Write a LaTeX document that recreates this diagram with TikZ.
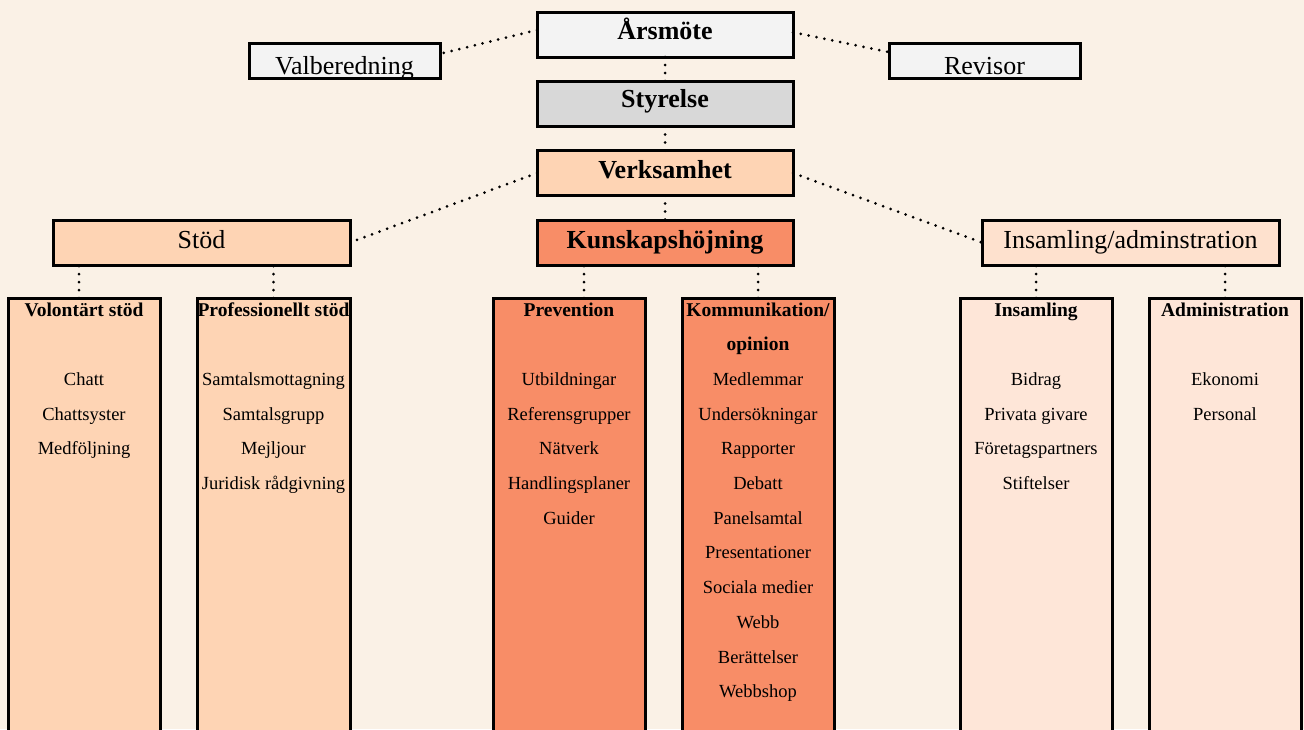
\documentclass[tikz,border=0pt]{standalone}
\usepackage{fontspec}
\setmainfont{Liberation Serif}
\usetikzlibrary{calc}
\definecolor{bgc}{HTML}{FAF1E6}
\definecolor{grayA}{HTML}{F3F3F3}
\definecolor{grayB}{HTML}{D8D8D8}
\definecolor{peach}{HTML}{FED4B4}
\definecolor{salmon}{HTML}{F88D67}
\definecolor{pale}{HTML}{FEE6D8}
\definecolor{paleh}{HTML}{FEE1CE}
\begin{document}
\begin{tikzpicture}[x=1pt,y=-1pt,
  box/.style={draw=black, line width=3pt, inner sep=0pt, outer sep=0pt,
    minimum width=256pt, minimum height=45pt, text height=28pt, text depth=17pt,
    font=\fontsize{26}{30}\selectfont},
  sidebox/.style={draw=black, line width=3pt, inner sep=0pt, outer sep=0pt,
    minimum width=191pt, minimum height=35pt, text height=31pt, text depth=4pt,
    font=\fontsize{26}{30}\selectfont, fill=grayA},
  widebox/.style={box, minimum width=297pt},
  colbox/.style={draw=black, line width=3pt, inner sep=0pt, outer sep=0pt,
    minimum width=152pt, minimum height=470pt, anchor=north},
  hd/.style={font=\bfseries\fontsize{19.5}{22}\selectfont, anchor=base, inner sep=0pt},
  itm/.style={font=\fontsize{18.5}{22}\selectfont, anchor=base, inner sep=0pt},
  dotl/.style={line width=3pt, line cap=round, dash pattern=on 0pt off 8pt}
]
\fill[bgc] (0,0) rectangle (1304,729);
\useasboundingbox (0,0) rectangle (1304,729);

% top level
\node[box, fill=grayA, text height=27pt, text depth=18pt] (ars) at (665,34.5) {\bfseries Årsmöte};
\node[sidebox] (vb) at (344.5,60.5) {Valberedning};
\node[sidebox] (rev) at (984.5,60.5) {Revisor};
\node[box, fill=grayB, text height=26pt, text depth=19pt] (sty) at (665,104) {\bfseries Styrelse};
\node[box, fill=peach, text height=28pt, text depth=17pt] (ver) at (665,173) {\bfseries Verksamhet};
\node[widebox, fill=peach] (stod) at (201.5,242.5) {Stöd};
\node[box, fill=salmon] (kh) at (665,242.5) {\bfseries Kunskapshöjning};
\node[widebox, fill=paleh] (ia) at (1130.5,242.5) {Insamling/adminstration};

% columns
\node[colbox, fill=peach] (vol) at (84,298) {};
\node[colbox, fill=peach, minimum width=153pt] (prof) at (273.5,298) {};
\node[colbox, fill=salmon] (prev) at (569,298) {};
\node[colbox, fill=salmon] (komm) at (758,298) {};
\node[colbox, fill=pale] (ins) at (1036,298) {};
\node[colbox, fill=pale] (adm) at (1225,298) {};

% column texts
\node[hd] (vol-h) at ($(vol.north)+(0,18)$) {Volontärt stöd};
\foreach \t [count=\i from 2] in {Chatt, Chattsyster, Medföljning}
  \node[itm] (vol-\i) at ($(vol.north)+(0,18+34.7*\i)$) {\t};

\node[hd] (prof-h) at ($(prof.north)+(0,18)$) {Professionellt stöd};
\foreach \t [count=\i from 2] in {Samtalsmottagning, Samtalsgrupp, Mejljour, Juridisk rådgivning}
  \node[itm] (prof-\i) at ($(prof.north)+(0,18+34.7*\i)$) {\t};

\node[hd] (prev-h) at ($(prev.north)+(0,18)$) {Prevention};
\foreach \t [count=\i from 2] in {Utbildningar, Referensgrupper, Nätverk, Handlingsplaner, Guider}
  \node[itm] (prev-\i) at ($(prev.north)+(0,18+34.7*\i)$) {\t};

\node[hd] (komm-h) at ($(komm.north)+(0,18)$) {Kommunikation/};
\node[hd] (komm-h2) at ($(komm.north)+(0,18+34.7)$) {opinion};
\foreach \t [count=\i from 2] in {Medlemmar, Undersökningar, Rapporter, Debatt, Panelsamtal, Presentationer, Sociala medier, Webb, Berättelser, Webbshop}
  \node[itm] (komm-\i) at ($(komm.north)+(0,18+34.7*\i)$) {\t};

\node[hd] (ins-h) at ($(ins.north)+(0,18)$) {Insamling};
\foreach \t [count=\i from 2] in {Bidrag, Privata givare, Företagspartners, Stiftelser}
  \node[itm] (ins-\i) at ($(ins.north)+(0,18+34.7*\i)$) {\t};

\node[hd] (adm-h) at ($(adm.north)+(0,18)$) {Administration};
\foreach \t [count=\i from 2] in {Ekonomi, Personal}
  \node[itm] (adm-\i) at ($(adm.north)+(0,18+34.7*\i)$) {\t};

% connectors
\draw[dotl] (ars.178.4) -- (vb.4.5);
\draw[dotl] (ars.1.6) -- (rev.175.5);
\draw[dotl] (ars.south) -- (sty.north);
\draw[dotl] (sty.south) -- (ver.north);
\draw[dotl] (ver.south) -- (kh.north);
\draw[dotl] (ver.west) -- (stod.east);
\draw[dotl] (ver.east) -- (ia.west);

\coordinate (volc) at ($(vol.north)+(-5,0)$);
\coordinate (prevc) at ($(prev.north)+(15,0)$);
\draw[dotl] (volc) -- (volc |- stod.south);
\draw[dotl] (prof.north) -- (prof.north |- stod.south);
\draw[dotl] (prevc) -- (prevc |- kh.south);
\draw[dotl] (komm.north) -- (komm.north |- kh.south);
\draw[dotl] (ins.north) -- (ins.north |- ia.south);
\draw[dotl] (adm.north) -- (adm.north |- ia.south);
\end{tikzpicture}
\end{document}
